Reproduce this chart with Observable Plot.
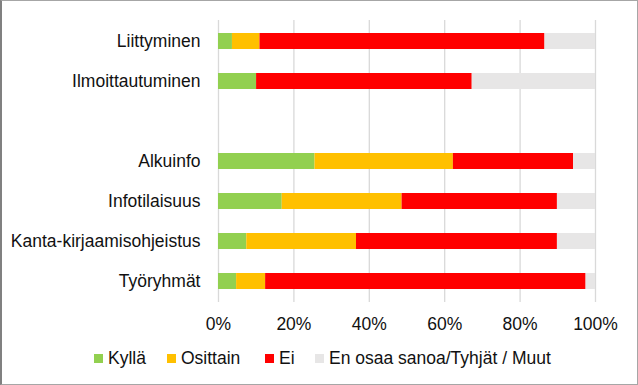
<!DOCTYPE html>
<html>
<head>
<meta charset="utf-8">
<script src="https://cdn.jsdelivr.net/npm/d3@7"></script>
<script src="https://cdn.jsdelivr.net/npm/@observablehq/plot@0.6"></script>
<style>
  html, body { margin: 0; padding: 0; background: #fff; }
  #wrap { position: relative; width: 638px; height: 385px; overflow: hidden; font-family: "Liberation Sans", Arial, sans-serif; color: #111; }
  #chart { position: absolute; left: 0; top: 0; }
  #legend { position: absolute; left: 0; top: 340px; width: 638px; height: 45px; font-size: 17.5px; }
  #legend .item { position: absolute; top: 8px; height: 20px; display: flex; align-items: center; white-space: nowrap; }
  #legend .sw { width: 9px; height: 9px; margin-right: 5px; flex: none; }
  #frame { position: absolute; inset: 0; box-sizing: border-box; border: 1px solid #a6a6a6; border-left: 2px solid #808080; pointer-events: none; }
</style>
</head>
<body>
<div id="wrap">
  <div id="chart"></div>
  <div id="legend"></div>
  <div id="frame"></div>
</div>
<script>
const categories = ["Liittyminen", "Ilmoittautuminen", "Alkuinfo", "Infotilaisuus", "Kanta-kirjaamisohjeistus", "Työryhmät"];
const responses = ["Kyllä", "Osittain", "Ei", "En osaa sanoa/Tyhjät / Muut"];
const colors = ["#92d050", "#ffc000", "#ff0000", "#e7e6e6"];
const kylla    = [3.7, 10.1, 25.6, 16.9, 7.5, 4.8];
const osittain = [7.3, 0.0, 36.7, 31.8, 29.1, 7.7];
const ei       = [75.6, 57.2, 31.9, 41.2, 53.3, 85.0];
const eos      = [13.4, 32.7, 5.8, 10.1, 10.1, 2.5];
const xTicks = [0, 20, 40, 60, 80, 100];
const gapLabel = " ";

const series = [kylla, osittain, ei, eos];
const data = [];
categories.forEach((c, i) => {
  series.forEach((s, j) => data.push({category: c, response: responses[j], value: s[i]}));
});
const yDomain = [categories[0], categories[1], gapLabel, ...categories.slice(2)];

const chart = Plot.plot({
  width: 638,
  height: 340,
  marginTop: 20,
  marginBottom: 38,
  marginLeft: 218,
  marginRight: 43,
  style: {fontFamily: "'Liberation Sans', Arial, sans-serif", fontSize: "17.5px", color: "#111", background: "transparent"},
  x: {domain: [0, 100], ticks: xTicks, tickFormat: d => d + "%", label: null, tickSize: 0, tickPadding: 15},
  y: {domain: yDomain, paddingInner: 0.6, paddingOuter: 0.3, label: null, tickSize: 0, tickPadding: 18},
  color: {domain: responses, range: colors},
  marks: [
    Plot.gridX(xTicks, {stroke: "#d9d9d9", strokeOpacity: 1, strokeWidth: 1.3}),
    Plot.barX(data, Plot.stackX({x: "value", y: "category", fill: "response", order: responses})),
    Plot.axisX({ticks: xTicks, tickFormat: d => d + "%", tickSize: 0, tickPadding: 15, label: null, fontSize: 17.5}),
    Plot.axisY({tickSize: 0, tickPadding: 18, label: null, fontSize: 17.5, tickFormat: d => d.trim()})
  ]
});
document.getElementById("chart").appendChild(chart);

const legendLefts = [94, 167, 265, 315];
const legend = document.getElementById("legend");
responses.forEach((r, i) => {
  const item = document.createElement("div");
  item.className = "item";
  item.style.left = legendLefts[i] + "px";
  const sw = document.createElement("span");
  sw.className = "sw";
  sw.style.background = colors[i];
  const t = document.createElement("span");
  t.textContent = r;
  item.appendChild(sw);
  item.appendChild(t);
  legend.appendChild(item);
});
</script>
</body>
</html>
